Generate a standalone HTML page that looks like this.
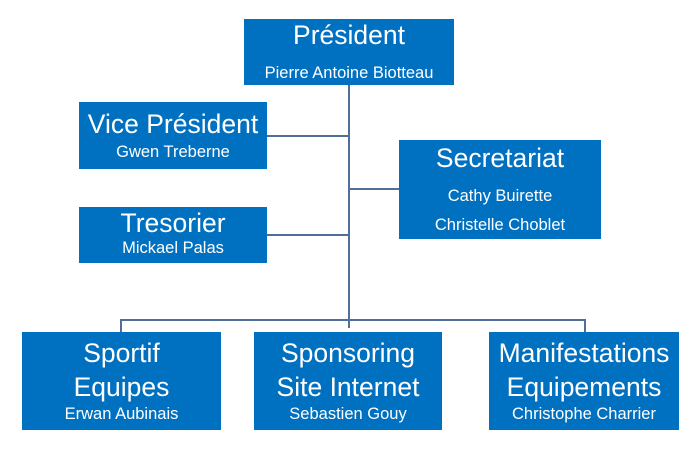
<!DOCTYPE html>
<html><head><meta charset="utf-8"><style>
body{margin:0;width:700px;height:450px;background:#fff;position:relative;overflow:hidden;font-family:"Liberation Sans",sans-serif}
.b{position:absolute;background:#0070c0}
.t{position:absolute;left:0;right:0;text-align:center;color:#fff;white-space:nowrap;line-height:1}
.h{font-size:26.5px}
.s{font-size:16.5px}
.l{position:absolute;background:#4f6e99}
</style></head><body>
<div class="l" style="left:348px;top:85px;width:2px;height:243px"></div>
<div class="l" style="left:267px;top:135px;width:82px;height:2px"></div>
<div class="l" style="left:349px;top:188px;width:50px;height:2px"></div>
<div class="l" style="left:267px;top:234px;width:82px;height:2px"></div>
<div class="l" style="left:120px;top:319px;width:466px;height:2px"></div>
<div class="l" style="left:120px;top:319px;width:2px;height:13px"></div>
<div class="l" style="left:584px;top:319px;width:2px;height:13px"></div>

<div class="b" style="left:244px;top:19px;width:210px;height:66px">
<div class="t h" style="top:3px">Président</div><div class="t s" style="top:46px">Pierre Antoine Biotteau</div></div>

<div class="b" style="left:79px;top:102px;width:188px;height:67px">
<div class="t h" style="top:9px">Vice Président</div><div class="t s" style="top:42px">Gwen Treberne</div></div>

<div class="b" style="left:399px;top:140px;width:202px;height:99px">
<div class="t h" style="top:5px">Secretariat</div><div class="t s" style="top:48px">Cathy Buirette</div><div class="t s" style="top:77px">Christelle Choblet</div></div>

<div class="b" style="left:79px;top:207px;width:188px;height:56px">
<div class="t h" style="top:3px">Tresorier</div><div class="t s" style="top:33px">Mickael Palas</div></div>

<div class="b" style="left:22px;top:332px;width:199px;height:98px">
<div class="t h" style="top:8px">Sportif</div><div class="t h" style="top:42px">Equipes</div><div class="t s" style="top:74px">Erwan Aubinais</div></div>

<div class="b" style="left:254px;top:332px;width:188px;height:98px">
<div class="t h" style="top:8px">Sponsoring</div><div class="t h" style="top:42px">Site Internet</div><div class="t s" style="top:74px">Sebastien Gouy</div></div>

<div class="b" style="left:489px;top:332px;width:190px;height:98px">
<div class="t h" style="top:8px">Manifestations</div><div class="t h" style="top:42px">Equipements</div><div class="t s" style="top:74px">Christophe Charrier</div></div>
</body></html>
